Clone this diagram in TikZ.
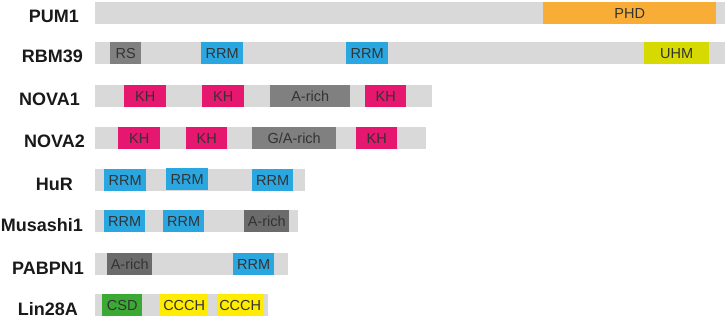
\documentclass[tikz,border=0pt]{standalone}
\usepackage{fontspec}
\setmainfont{Liberation Sans}
\usetikzlibrary{positioning}

\definecolor{bargrey}{HTML}{D9D9D9}
\definecolor{phdorange}{HTML}{F8AE36}
\definecolor{rrmblue}{HTML}{2AA7E1}
\definecolor{khpink}{HTML}{E5176F}
\definecolor{uhmlime}{HTML}{D6DA00}
\definecolor{csdgreen}{HTML}{3BAA35}
\definecolor{ccchyellow}{HTML}{FFEC00}
\definecolor{richgrey}{HTML}{808080}
\definecolor{richdark}{HTML}{6B6B6B}

\tikzset{
  bar/.style={fill=bargrey, draw=none, inner sep=0pt, minimum height=22pt, anchor=west},
  dom/.style={draw=none, inner sep=0pt, minimum height=22pt, anchor=west,
              text height=10.5pt, text depth=0pt, text=black!80,
              font=\fontsize{14.5}{14.5}\selectfont},
  protein/.style={anchor=base east, inner sep=0pt, text=black!90,
                  font=\fontsize{18}{18}\selectfont\bfseries}
}

\begin{document}
\begin{tikzpicture}[x=1pt, y=-1pt]

  \useasboundingbox (0,0) rectangle (726,318);

  % --- protein backbones and names ---
  \foreach \p/\lbl/\top/\len/\lx in {pum1/PUM1/2/725/79, rbm39/RBM39/42/725/83,
      nova1/NOVA1/85/432/80, nova2/NOVA2/127/426/85, hur/HuR/169/305/73,
      msi1/Musashi1/210/298/83, pabpn1/PABPN1/253/288/84, lin28a/Lin28A/294/268/78} {
    \node[bar, minimum width=\len-95] (\p-bar) at (95,\top+11) {};
    \node[protein] (\p-name) at (\lx,\top+21) {\lbl};
  }

  % --- PUM1 ---
  \node[dom, fill=phdorange, minimum width=173] (pum1-1) at (543,13) {PHD};

  % --- RBM39 ---
  \foreach \a/\b/\col/\txt [count=\i] in {110/141/richgrey/RS, 201/243/rrmblue/RRM,
      346/388/rrmblue/RRM, 644/709/uhmlime/UHM} {
    \node[dom, fill=\col, minimum width=\b-\a] (rbm39-\i) at (\a,53) {\txt};
  }

  % --- NOVA1 ---
  \foreach \a/\b/\col/\txt [count=\i] in {124/166/khpink/KH, 202/244/khpink/KH,
      270/350/richgrey/A-rich, 365/406/khpink/KH} {
    \node[dom, fill=\col, minimum width=\b-\a] (nova1-\i) at (\a,96) {\txt};
  }

  % --- NOVA2 (G/A-rich kept out of the loop because of the slash) ---
  \foreach \a/\b [count=\i] in {118/160, 186/227, 356/397} {
    \node[dom, fill=khpink, minimum width=\b-\a] (nova2-kh\i) at (\a,138) {KH};
  }
  \node[dom, fill=richgrey, minimum width=84] (nova2-ga) at (252,138) {G/A-rich};

  % --- HuR ---
  \foreach \a/\b/\top [count=\i] in {104/146/169, 166/208/168, 252/293/169} {
    \node[dom, fill=rrmblue, minimum width=\b-\a] (hur-\i) at (\a,\top+11) {RRM};
  }

  % --- Musashi1 ---
  \foreach \a/\b/\col/\txt [count=\i] in {104/145/rrmblue/RRM, 163/204/rrmblue/RRM,
      244/289/richdark/A-rich} {
    \node[dom, fill=\col, minimum width=\b-\a] (msi1-\i) at (\a,221) {\txt};
  }

  % --- PABPN1 ---
  \node[dom, fill=richdark, minimum width=45] (pabpn1-1) at (107,264) {A-rich};
  \node[dom, fill=rrmblue, minimum width=41] (pabpn1-2) at (233,264) {RRM};

  % --- Lin28A ---
  \foreach \a/\b/\col/\txt [count=\i] in {102/142/csdgreen/CSD, 160/208/ccchyellow/CCCH,
      217/263/ccchyellow/CCCH} {
    \node[dom, fill=\col, minimum width=\b-\a] (lin28a-\i) at (\a,305) {\txt};
  }

\end{tikzpicture}
\end{document}
